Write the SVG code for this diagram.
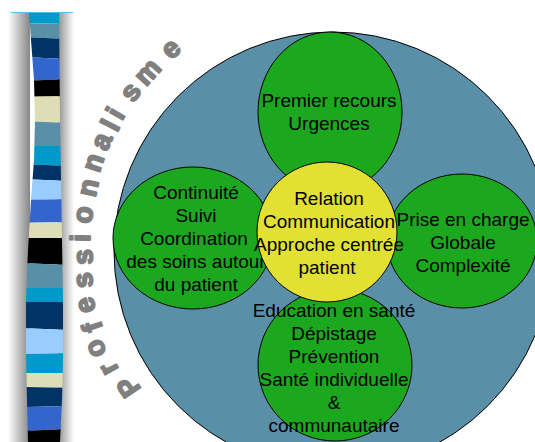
<svg xmlns="http://www.w3.org/2000/svg" width="535" height="442" viewBox="0 0 535 442">
<defs>
<linearGradient id="shL" x1="0" y1="0" x2="1" y2="0"><stop offset="0" stop-color="#ffffff"/><stop offset="1" stop-color="#858585"/></linearGradient>
<linearGradient id="shR" x1="0" y1="0" x2="1" y2="0"><stop offset="0" stop-color="#909090"/><stop offset="1" stop-color="#ffffff"/></linearGradient>
<clipPath id="stripClip"><path d="M29,13 L59,13 L60,120 L61,180 L62,240 L63,300 L63,360 L62,400 L60,442 L28,442 L27,400 L26,350 L26,300 L28,250 L31,200 L34,160 L35,120 L34,80 L31,40 Z"/></clipPath>
<style>
.node{stroke:#000;stroke-width:1}
.green{fill:#1CA81E}
.yellow{fill:#E2E033}
.lbl{font-family:"Liberation Sans",Arial,sans-serif;font-size:19px;fill:#000;text-anchor:middle}
.arc text{font-family:"Liberation Sans",Arial,sans-serif;font-size:28px;font-weight:bold;fill:#808080;stroke:#808080;stroke-width:1.8;stroke-linejoin:round;text-anchor:middle}
</style>
</defs>
<rect width="535" height="442" fill="#ffffff"/>
<g id="strip">
<rect x="8" y="13" width="22" height="429" fill="url(#shL)"/>
<rect x="58" y="13" width="16" height="429" fill="url(#shR)"/>
<g clip-path="url(#stripClip)">
<polygon points="20,13 70,13 70,24 20,23" fill="#0099CC"/>
<polygon points="20,23 70,24 70,39 20,37" fill="#5A8FA8"/>
<polygon points="20,37 70,39 70,59 20,57" fill="#003366"/>
<polygon points="20,57 70,59 70,79 20,81" fill="#3366CC"/>
<polygon points="20,81 70,79 70,96 20,97" fill="#000000"/>
<polygon points="20,97 70,96 70,123 20,121" fill="#DDDDB6"/>
<polygon points="20,121 70,123 70,146 20,146" fill="#5A8FA8"/>
<polygon points="20,146 70,146 70,166 20,164" fill="#0099CC"/>
<polygon points="20,164 70,166 70,181 20,179" fill="#003366"/>
<polygon points="20,179 70,181 70,199 20,200" fill="#99CCFF"/>
<polygon points="20,200 70,199 70,222 20,223" fill="#3366CC"/>
<polygon points="20,223 70,222 70,238 20,238" fill="#DDDDB6"/>
<polygon points="20,238 70,238 70,265 20,263" fill="#000000"/>
<polygon points="20,263 70,265 70,288 20,288" fill="#5A8FA8"/>
<polygon points="20,288 70,288 70,302 20,302" fill="#0099CC"/>
<polygon points="20,302 70,302 70,330 20,328" fill="#003366"/>
<polygon points="20,328 70,330 70,353 20,354" fill="#99CCFF"/>
<polygon points="20,354 70,353 70,373 20,373" fill="#0099CC"/>
<polygon points="20,373 70,373 70,388 20,387" fill="#DDDDB6"/>
<polygon points="20,387 70,388 70,406 20,407" fill="#003366"/>
<polygon points="20,407 70,406 70,429 20,431" fill="#3366CC"/>
<polygon points="20,431 70,429 70,442 20,442" fill="#000000"/>
</g>
<line x1="11" y1="12.5" x2="73" y2="12.5" stroke="#55C0E8" stroke-width="1"/>
</g>
<g id="title-arc" class="arc">
<text transform="translate(128,387) rotate(235.6)" y="10">P</text>
<text transform="translate(110,368) rotate(241.3)" y="7.3">r</text>
<text transform="translate(97,348) rotate(246.5)" y="7.3">o</text>
<text transform="translate(92,327) rotate(251.1)" y="10">f</text>
<text transform="translate(87,305) rotate(256.1)" y="7.3">e</text>
<text transform="translate(85,280) rotate(261.7)" y="7.3">s</text>
<text transform="translate(85,257) rotate(266.8)" y="7.3">s</text>
<text transform="translate(80,238) rotate(271.1)" y="10">i</text>
<text transform="translate(85,215) rotate(276.3)" y="7.3">o</text>
<text transform="translate(90,188) rotate(282.5)" y="7.3">n</text>
<text transform="translate(95,163) rotate(288.2)" y="7.3">n</text>
<text transform="translate(103,142) rotate(293.3)" y="7.3">a</text>
<text transform="translate(110,125) rotate(297.4)" y="10">l</text>
<text transform="translate(115,113) rotate(300.2)" y="10">i</text>
<text transform="translate(132,93) rotate(306.1)" y="7.3">s</text>
<text transform="translate(149,73) rotate(312.0)" y="7.3">m</text>
<text transform="translate(172,50) rotate(319.3)" y="7.3">e</text>
</g>
<g id="outer">
<circle cx="333" cy="251" r="219" fill="#5A8FA8" stroke="#000" stroke-width="1"/>
</g>
<g id="node-top">
<ellipse class="node green" cx="330" cy="112" rx="72" ry="80"/>
<text class="lbl" x="329" y="107">Premier recours</text>
<text class="lbl" x="329" y="130">Urgences</text>
</g>
<g id="node-left">
<ellipse class="node green" cx="193" cy="238" rx="80" ry="71"/>
<text class="lbl" x="196" y="199">Continuité</text>
<text class="lbl" x="196" y="222">Suivi</text>
<text class="lbl" x="194" y="245">Coordination</text>
<text class="lbl" x="196" y="268">des soins autour</text>
<text class="lbl" x="196" y="291">du patient</text>
</g>
<g id="node-right">
<ellipse class="node green" cx="462" cy="241" rx="75" ry="67"/>
<text class="lbl" x="463" y="226">Prise en charge</text>
<text class="lbl" x="463" y="249">Globale</text>
<text class="lbl" x="463" y="272">Complexité</text>
</g>
<g id="node-bottom">
<ellipse class="node green" cx="335" cy="365" rx="77" ry="76"/>
</g>
<g id="node-center">
<ellipse class="node yellow" cx="327" cy="232" rx="70" ry="70"/>
<text class="lbl" x="329" y="205">Relation</text>
<text class="lbl" x="329" y="228">Communication</text>
<text class="lbl" x="329" y="251">Approche centrée</text>
<text class="lbl" x="327" y="274">patient</text>
</g>
<g id="node-bottom-text">
<text class="lbl" x="334" y="317">Education en santé</text>
<text class="lbl" x="334" y="340">Dépistage</text>
<text class="lbl" x="334" y="363">Prévention</text>
<text class="lbl" x="334" y="386">Santé individuelle</text>
<text class="lbl" x="334" y="409">&amp;</text>
<text class="lbl" x="334" y="432">communautaire</text>
</g>
<g id="connectors"/>
</svg>
